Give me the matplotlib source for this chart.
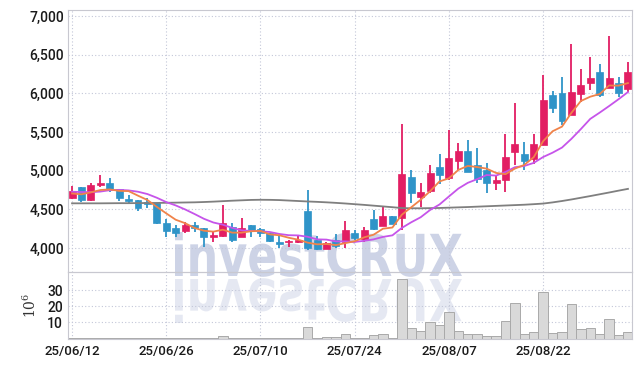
import matplotlib
matplotlib.use('Agg')
import matplotlib.pyplot as plt
import numpy as np
from matplotlib.textpath import TextPath
from matplotlib.patches import PathPatch
from matplotlib.font_manager import FontProperties, fontManager
from matplotlib.transforms import Affine2D

# date ticks (trading-day index)
date_labels = ['25/06/12', '25/06/26', '25/07/10', '25/07/24', '25/08/07', '25/08/22']
date_pos = [0, 10, 20, 30, 40, 50]

opens = [4650, 4785, 4625, 4820, 4845, 4760, 4635, 4620, 4600, 4580,
         4325, 4260, 4215, 4300, 4255, 4145, 4160, 4270, 4145, 4300,
         4240, 4190, 4080, 4082, 4082, 4480, 4105, 3990, 4105, 4080,
         4190, 4115, 4370, 4285, 4415, 4390, 4915, 4665, 4740, 5045,
         4900, 5130, 5255, 5075, 5010, 4845, 4875, 5245, 5215, 5145,
         5335, 5980, 6010, 5720, 5995, 6140, 6275, 6075, 6140, 6060]
highs = [4800, 4790, 4845, 4945, 4900, 4765, 4685, 4625, 4650, 4585,
         4370, 4300, 4340, 4340, 4260, 4210, 4555, 4320, 4385, 4300,
         4255, 4195, 4160, 4100, 4160, 4750, 4160, 4080, 4180, 4350,
         4235, 4275, 4490, 4525, 4420, 5600, 5010, 4835, 5070, 5215,
         5525, 5360, 5395, 5290, 5095, 4945, 5475, 5870, 5375, 5470,
         6235, 6030, 6215, 6635, 6310, 6475, 6380, 6740, 6215, 6400]
lows = [4635, 4590, 4610, 4795, 4720, 4605, 4585, 4480, 4515, 4315,
        4145, 4140, 4190, 4210, 4015, 4080, 4145, 4080, 4140, 4145,
        4145, 4080, 4000, 4010, 4065, 3970, 3970, 3985, 4000, 4000,
        4100, 4080, 4235, 4280, 4305, 4235, 4585, 4535, 4715, 4830,
        4885, 5010, 4980, 4835, 4715, 4750, 4730, 5075, 5010, 5085,
        5330, 5740, 5585, 5715, 5890, 6045, 5950, 6070, 5950, 6020]
closes = [4740, 4625, 4815, 4845, 4765, 4645, 4612, 4520, 4565, 4320,
          4225, 4200, 4295, 4255, 4145, 4165, 4325, 4105, 4255, 4235,
          4190, 4095, 4050, 4095, 4110, 4000, 3985, 4070, 4025, 4235,
          4125, 4235, 4240, 4415, 4310, 4955, 4715, 4725, 4965, 4945,
          5160, 5255, 4985, 4890, 4845, 4880, 5175, 5345, 5130, 5345,
          5915, 5815, 5645, 6020, 6110, 6195, 5985, 6200, 6010, 6275]

ma_short = [4705, 4695, 4720, 4750, 4758, 4739, 4736, 4677, 4621, 4532,
            4448, 4366, 4321, 4259, 4224, 4212, 4237, 4199, 4199, 4217,
            4222, 4176, 4165, 4133, 4108, 4070, 4048, 4052, 4038, 4063,
            4088, 4138, 4172, 4250, 4265, 4431, 4527, 4624, 4734, 4861,
            4902, 5010, 5062, 5047, 5027, 4971, 4955, 5027, 5075, 5175,
            5382, 5510, 5570, 5748, 5901, 5957, 5991, 6102, 6100, 6133]
ma_mid = [4728, 4724, 4722, 4730, 4748, 4752, 4745, 4728, 4698, 4650,
          4594, 4551, 4499, 4440, 4378, 4330, 4302, 4260, 4229, 4221,
          4217, 4207, 4182, 4166, 4163, 4146, 4112, 4109, 4086, 4086,
          4079, 4093, 4112, 4144, 4164, 4260, 4333, 4398, 4492, 4563,
          4667, 4769, 4843, 4891, 4944, 4937, 4983, 5045, 5061, 5101,
          5177, 5233, 5299, 5412, 5538, 5670, 5751, 5836, 5924, 6017]
ma_long = [4578, 4578, 4578, 4578, 4579, 4580, 4580, 4581, 4582, 4583,
           4585, 4587, 4589, 4591, 4595, 4600, 4606, 4612, 4617, 4622,
           4624, 4623, 4620, 4614, 4608, 4602, 4597, 4591, 4584, 4576,
           4567, 4558, 4548, 4538, 4528, 4517, 4514, 4514, 4516, 4518,
           4522, 4526, 4530, 4535, 4540, 4545, 4550, 4555, 4560, 4567,
           4575, 4590, 4608, 4628, 4650, 4672, 4695, 4718, 4742, 4765]

# volume in millions
volume = [0.2, 0.2, 0.5, 0.5, 0.2, 0.2, 0.1, 0.1, 0.1, 0.2,
          0.1, 0.1, 0.1, 0.1, 0.2, 0.1, 1.5, 0.2, 0.5, 0.2,
          0.2, 0.1, 0.3, 0.2, 0.3, 7.3, 0.5, 0.8, 1.0, 2.8,
          0.5, 0.5, 2.0, 2.5, 0.5, 36.8, 6.3, 4.7, 10.0, 8.4,
          16.3, 4.7, 2.9, 2.9, 1.7, 1.7, 10.9, 21.9, 2.9, 3.9,
          28.7, 3.3, 4.0, 21.4, 5.7, 6.4, 2.9, 11.9, 2.2, 4.0]

names = {f.name for f in fontManager.ttflist}
tick_font = 'Liberation Sans Narrow' if 'Liberation Sans Narrow' in names else 'Roboto'
plt.rcParams['mathtext.fontset'] = 'dejavuserif'

RED = '#e21e63'
BLUE = '#2f94c8'
GRID = '#c3c7d8'
SPINE = '#c8c8d0'

fig = plt.figure(figsize=(6.42, 3.67), dpi=100)
fig.patch.set_facecolor('white')
ax = fig.add_axes([68 / 642, 1 - 272 / 367, 564 / 642, 262 / 367])
axv = fig.add_axes([68 / 642, 1 - 338.5 / 367, 564 / 642, 66.5 / 367], sharex=ax)
for a in (ax, axv):
    a.set_facecolor('none')
    for s in a.spines.values():
        s.set_color(SPINE)
        s.set_linewidth(0.8)
    a.grid(True, color=GRID, linestyle=(0, (1, 2)), linewidth=0.8)
    a.set_axisbelow(True)
    a.tick_params(length=0, colors='#1a1a1a')

# watermark with reflection
fp = FontProperties(family='DejaVu Sans', weight='bold')
tp = TextPath((0, 0), 'investCRUX', size=100, prop=fp)
ext = tp.get_extents()
sx = (462 - 175) / ext.width
sy = 44 / ext.ymax
base = 367 - 276
wm = Affine2D().translate(-ext.xmin, 0).scale(sx, sy).translate(175, base).scale(1 / 100)
fig.add_artist(PathPatch(tp, transform=wm + fig.dpi_scale_trans,
                         facecolor='#cdd3e6', edgecolor='none', zorder=-1))
wr = Affine2D().translate(-ext.xmin, 0).scale(sx, -sy).translate(175, base - 3).scale(1 / 100)
fig.add_artist(PathPatch(tp, transform=wr + fig.dpi_scale_trans,
                         facecolor='#cdd3e6', edgecolor='none', alpha=0.5, zorder=-1))

x = np.arange(len(closes))
o = np.array(opens)
c = np.array(closes)
up = c >= o
cols = np.where(up, RED, BLUE)
ax.vlines(x, lows, highs, colors=cols, linewidth=1.3, zorder=2)
body_h = np.maximum(np.abs(c - o), 8)
ax.bar(x, body_h, bottom=np.minimum(o, c), width=0.74, color=cols,
       edgecolor=cols, linewidth=0.5, zorder=3)

ax.plot(x, ma_long, color='#7f7f7f', linewidth=1.3, zorder=4)
ax.plot(x, ma_mid, color='#c654ea', linewidth=1.3, zorder=4)
ax.plot(x, ma_short, color='#f0834a', linewidth=1.3, zorder=5)

ax.set_xlim(-0.43, len(closes) - 0.57)
ax.set_ylim(3690, 7078)
ax.set_yticks([4000, 4500, 5000, 5500, 6000, 6500, 7000])
ax.set_yticklabels([f'{v:,}' for v in ax.get_yticks().astype(int)],
                   fontfamily=tick_font, fontsize=10, fontweight='medium')
ax.tick_params(labelbottom=False, pad=3)

axv.bar(x, volume, width=1.0, color='#d9d9d9', edgecolor='#a9a9a9',
        linewidth=0.7, zorder=2)
axv.set_ylim(0, 41.3)
axv.set_yticks([10, 20, 30])
axv.set_yticklabels(['10', '20', '30'], fontfamily=tick_font, fontsize=10,
                    fontweight='medium')
axv.set_xticks(date_pos)
axv.set_xticklabels(date_labels, fontfamily=tick_font, fontsize=9.5,
                    fontweight='medium')
axv.tick_params(axis='x', pad=5)
axv.set_ylabel(r'$10^6$', fontsize=10, color='#333333', labelpad=6)

fig.savefig('out.png', dpi=100)
